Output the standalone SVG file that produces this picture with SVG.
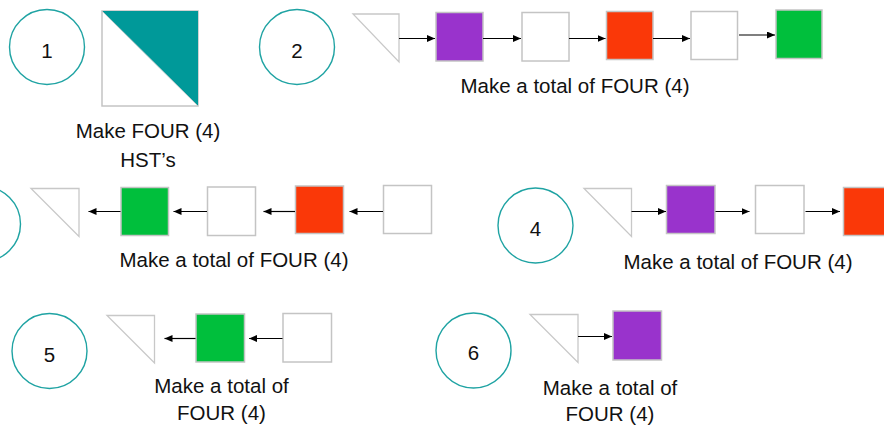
<svg xmlns="http://www.w3.org/2000/svg" width="884" height="425" viewBox="0 0 884 425">
<defs>
<marker id="ah" markerUnits="userSpaceOnUse" markerWidth="9" markerHeight="8" refX="8" refY="3.5" orient="auto">
<path d="M0,0 L8,3.5 L0,7 z" fill="#000"/>
</marker>
</defs>
<style>
.c{fill:#fff;stroke:#1FA3A3;stroke-width:1.4}
.sq{stroke:#c4c4c4;stroke-width:1.5}
.w{fill:#fff}
.p{fill:#9933CC}
.r{fill:#FA3808}
.g{fill:#00BF3C}
.tri{fill:#fff;stroke:#c8c8c8;stroke-width:1.3}
.a{stroke:#000;stroke-width:1.2;fill:none;marker-end:url(#ah)}
text{font-family:"Liberation Sans",Arial,sans-serif;font-size:20.5px;fill:#111;text-anchor:middle}
</style>
<rect width="884" height="425" fill="#fff"/>

<g id="step1">
<circle class="c" cx="47" cy="47" r="37.5"/>
<text x="47" y="57.5">1</text>
<rect x="102" y="11" width="96" height="95" fill="#fff" stroke="#c4c4c4" stroke-width="1.5"/>
<polygon points="102,11 198,11 198,106" fill="#009999"/>
<line x1="102" y1="11" x2="198" y2="106" stroke="#c8c8c8" stroke-width="0.8"/>
<text x="148" y="137.5">Make FOUR (4)</text>
<text x="148" y="167">HST’s</text>
</g>

<g id="step2">
<circle class="c" cx="297" cy="47" r="37.5"/>
<text x="297" y="57.5">2</text>
<polygon class="tri" points="353,14 399,14 399,62"/>
<rect class="sq p" x="436" y="12.5" width="47" height="48.5"/>
<rect class="sq w" x="522" y="12.5" width="47" height="48.5"/>
<rect class="sq r" x="606.5" y="11.5" width="46.5" height="48"/>
<rect class="sq w" x="691" y="11.5" width="46.5" height="48"/>
<rect class="sq g" x="776" y="10" width="46" height="48.5"/>
<text x="575" y="93">Make a total of FOUR (4)</text>
</g>

<g id="step3">
<circle class="c" cx="-17" cy="224" r="37.5"/>
<polygon class="tri" points="31,188.5 79,188.5 79,236.5"/>
<rect class="sq g" x="121" y="187.5" width="47.5" height="48"/>
<rect class="sq w" x="207.5" y="187" width="48" height="48.5"/>
<rect class="sq r" x="295.5" y="186" width="48" height="47.5"/>
<rect class="sq w" x="383.5" y="185.5" width="48" height="48"/>
<text x="234" y="266.5">Make a total of FOUR (4)</text>
</g>

<g id="step4">
<circle class="c" cx="535.5" cy="225.5" r="37.5"/>
<text x="535.5" y="236">4</text>
<polygon class="tri" points="584,188.5 631.5,188.5 631.5,236.5"/>
<rect class="sq p" x="666.5" y="185.5" width="48.5" height="48"/>
<rect class="sq w" x="755.5" y="185.5" width="48.5" height="48"/>
<rect class="sq r" x="843.5" y="187.5" width="48" height="48"/>
<text x="738" y="269">Make a total of FOUR (4)</text>
</g>

<g id="step5">
<circle class="c" cx="49.5" cy="351" r="37.5"/>
<text x="49.5" y="361.5">5</text>
<polygon class="tri" points="107,315.5 154.5,315.5 154.5,363"/>
<rect class="sq g" x="196" y="314" width="48.5" height="48"/>
<rect class="sq w" x="283" y="313.5" width="48.5" height="48.5"/>
<text x="221.5" y="392.5">Make a total of</text>
<text x="221.5" y="420">FOUR (4)</text>
</g>

<g id="step6">
<circle class="c" cx="473.5" cy="350.5" r="37.5"/>
<text x="473.5" y="360">6</text>
<polygon class="tri" points="530,314.5 578,314.5 578,362.5"/>
<rect class="sq p" x="613" y="311" width="48.5" height="49"/>
<text x="610" y="394.5">Make a total of</text>
<text x="610" y="420.5">FOUR (4)</text>
</g>

<g id="connectors">
<line class="a" x1="399" y1="38.5" x2="435" y2="38.5"/>
<line class="a" x1="483" y1="38.5" x2="521" y2="38.5"/>
<line class="a" x1="569" y1="38.5" x2="605.5" y2="38.5"/>
<line class="a" x1="653" y1="38.5" x2="690" y2="38.5"/>
<line class="a" x1="739" y1="35" x2="775" y2="35" style="stroke:#7f7f7f;stroke-width:2"/>
<line class="a" x1="120.5" y1="211.5" x2="88.5" y2="211.5"/>
<line class="a" x1="207" y1="211.5" x2="173.5" y2="211.5"/>
<line class="a" x1="295" y1="211.5" x2="263.5" y2="211.5"/>
<line class="a" x1="383" y1="211.5" x2="349.5" y2="211.5"/>
<line class="a" x1="631.5" y1="211.5" x2="666" y2="211.5"/>
<line class="a" x1="715.5" y1="211.5" x2="749.5" y2="211.5"/>
<line class="a" x1="805.5" y1="211.5" x2="840" y2="211.5"/>
<line class="a" x1="195.5" y1="338.5" x2="164.5" y2="338.5"/>
<line class="a" x1="282.5" y1="338.5" x2="249" y2="338.5"/>
<line class="a" x1="578" y1="336.5" x2="612" y2="336.5"/>
</g>
</svg>
